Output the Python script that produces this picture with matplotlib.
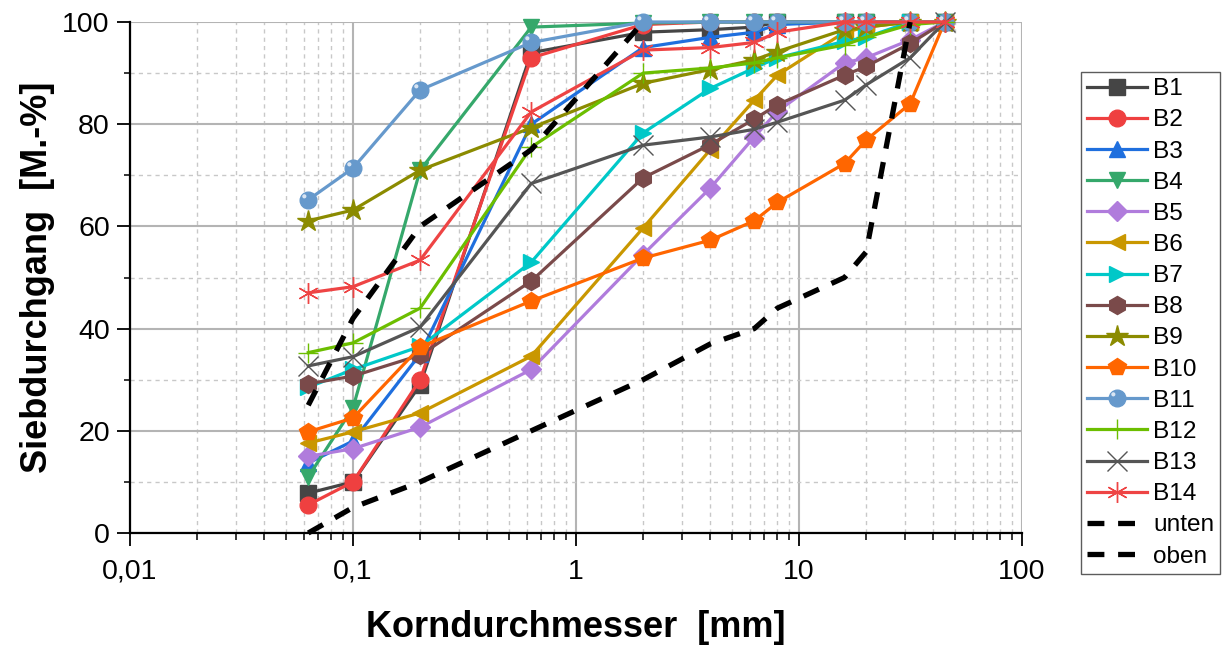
import matplotlib
matplotlib.use("Agg")
import matplotlib.pyplot as plt
import numpy as np
from matplotlib.ticker import FixedLocator, LogLocator, NullFormatter, FixedFormatter, MultipleLocator
from matplotlib.path import Path
from matplotlib.legend_handler import HandlerTuple

plt.rcParams['font.family'] = ['Liberation Sans', 'DejaVu Sans']

# Sieve sizes [mm]
sieves = [0.063, 0.1, 0.2, 0.63, 2, 4, 6.3, 8, 16, 20, 31.5, 45]

B1 = [7.8, 10, 29, 94, 98, 98.5, 99, 100, 100, 100, 100, 100]
B2 = [5.5, 10, 30, 93, 99.5, 100, 100, 100, 100, 100, 100, 100]
B3 = [13.7, 18, 35, 80, 95, 97, 98, 99.5, 100, 100, 100, 100]
B4 = [11, 24.5, 71, 99, 99.8, 100, 100, 100, 100, 100, 100, 100]
B5 = [15, 16.5, 20.7, 32, 54.5, 67.5, 77.5, 82.5, 92, 93, 96.5, 100]
B6 = [17.6, 19.8, 23.5, 34.6, 59.7, 75, 84.7, 89.6, 98, 99, 100, 100]
B7 = [28.5, 32, 36.5, 53, 78.3, 87, 91, 93, 96.2, 97, 100, 100]
B8 = [29.2, 30.7, 34.8, 49.3, 69.5, 76, 81, 83.8, 89.6, 91.3, 95.8, 100]
B9 = [61.1, 63.2, 71, 79.3, 88, 90.7, 92.6, 94.2, 98.5, 99, 100, 100]
B10 = [19.8, 22.5, 36.4, 45.4, 53.8, 57.3, 61.1, 64.7, 72.3, 76.9, 84, 100]
B11 = [65.2, 71.4, 86.7, 96, 100, 100, 100, 100, 100, 100, 100, 100]
B12 = [35.3, 37.2, 44, 75.5, 90, 91, 92, 93, 95.5, 97, 99.5, 100]
B13 = [32.7, 34.5, 40.3, 68.4, 75.9, 77.5, 79, 80.4, 84.7, 87.7, 93, 100]
B14 = [47, 48.2, 53.4, 82.4, 94.5, 95, 96, 98, 100, 100, 100, 100]

limit_sieves_unten = [0.063, 0.1, 0.2, 0.63, 2, 4, 6.3, 8, 16, 20, 31.5]
unten = [0, 5, 10, 20, 30, 37, 40, 44, 50, 55, 100]
limit_sieves_oben = [0.063, 0.1, 0.2, 0.63, 2]
oben = [25, 42, 60, 75, 100]

series_names = ['B1', 'B2', 'B3', 'B4', 'B5', 'B6', 'B7', 'B8', 'B9', 'B10',
                'B11', 'B12', 'B13', 'B14']
series_values = [B1, B2, B3, B4, B5, B6, B7, B8, B9, B10, B11, B12, B13, B14]

styles = [
    dict(color='#454545', marker='s', ms=11),
    dict(color='#EF4040', marker='o', ms=12),
    dict(color='#1F6FDE', marker='^', ms=12),
    dict(color='#35A86B', marker='v', ms=12),
    dict(color='#B07CDC', marker='D', ms=10),
    dict(color='#C99700', marker='<', ms=12),
    dict(color='#00C8C8', marker='>', ms=12),
    dict(color='#7A4A4A', marker='h', ms=13),
    dict(color='#8B8B00', marker='*', ms=16),
    dict(color='#FF6600', marker='p', ms=13),
    dict(color='#6699CC', marker='o', ms=12),
    dict(color='#6CBE00', marker='+', ms=15, mew=1.0),
    dict(color='#555555', marker='x', ms=14, mew=1.0),
    dict(color='#EE4444', marker=(6, 2, 0), ms=15, mew=1.0),
]

fig = plt.figure(figsize=(12.24, 6.46), dpi=100)
ax = fig.add_axes([130 / 1224, 1 - 533 / 646, (1022 - 130) / 1224, (533 - 22) / 646])

handles = []
for name, vals, st in zip(series_names, series_values, styles):
    kw = dict(st)
    if kw['marker'] not in ('+', 'x') and not isinstance(kw['marker'], tuple):
        kw['mec'] = kw['color']
        kw['mew'] = 1.0
    ln, = ax.plot(sieves, vals, lw=2.3, label=name, zorder=3, clip_on=False, **kw)
    handles.append(ln)

# highlight on B11 ball
theta = np.linspace(0, 2 * np.pi, 40)
hx = -0.30 + 0.15 * np.cos(theta)
hy = 0.30 + 0.15 * np.sin(theta)
hl_path = Path(np.column_stack([hx, hy]), closed=True)
hl, = ax.plot(sieves, B11, ls='none', marker=hl_path, ms=12 * 0.75, mfc='#E6EEF8',
              mec='none', alpha=0.9, zorder=3.1, clip_on=False)
handles[10] = (handles[10], hl)

l_unten, = ax.plot(limit_sieves_unten, unten, color='black', lw=3.8, ls=(0, (3.2, 2.6)),
                   label='unten', zorder=4, clip_on=False)
l_oben, = ax.plot(limit_sieves_oben, oben, color='black', lw=3.8, ls=(0, (3.2, 2.6)),
                  label='oben', zorder=4, clip_on=False)
handles += [l_unten, l_oben]
labels = series_names + ['unten', 'oben']

ax.set_xscale('log')
ax.set_xlim(0.01, 100)
ax.set_ylim(0, 100)
ax.xaxis.set_major_locator(FixedLocator([0.01, 0.1, 1, 10, 100]))
ax.xaxis.set_major_formatter(FixedFormatter(['0,01', '0,1', '1', '10', '100']))
ax.xaxis.set_minor_locator(LogLocator(base=10, subs=np.arange(2, 10)))
ax.xaxis.set_minor_formatter(NullFormatter())
ax.yaxis.set_major_locator(MultipleLocator(20))
ax.yaxis.set_minor_locator(MultipleLocator(10))

ax.grid(which='major', color='#b4b4b4', lw=1.5, ls='-', zorder=0)
ax.grid(which='minor', color='#c8c8c8', lw=1.0, ls=(0, (3, 3)), zorder=0)
ax.set_axisbelow(True)

for s in ['top', 'right']:
    ax.spines[s].set_visible(False)
for s in ['left', 'bottom']:
    ax.spines[s].set_linewidth(1.6)

ax.tick_params(which='major', direction='out', length=9.5, width=1.3, labelsize=20.5, pad=5)
ax.tick_params(axis='x', which='major', pad=9)
ax.tick_params(which='minor', direction='out', length=5, width=1.1)
ax.tick_params(axis='y', which='minor', length=4)

ax.set_xlabel('Korndurchmesser  [mm]', fontsize=26, fontweight='bold', labelpad=18)
ax.set_ylabel('Siebdurchgang  [M.-%]', fontsize=26, fontweight='bold', labelpad=5)

leg = fig.legend(handles, labels, loc='upper left',
                 bbox_to_anchor=(1081 / 1224, 1 - 72 / 646), borderaxespad=0,
                 fontsize=17.6, frameon=True, fancybox=False, shadow=False,
                 handlelength=2.45, handletextpad=0.25, labelspacing=0.37,
                 borderpad=0.25, numpoints=1,
                 handler_map={tuple: HandlerTuple(ndivide=1, pad=0)})
leg.get_frame().set_edgecolor('#333333')
leg.get_frame().set_linewidth(1.0)

fig.savefig('out.png', dpi=100)
